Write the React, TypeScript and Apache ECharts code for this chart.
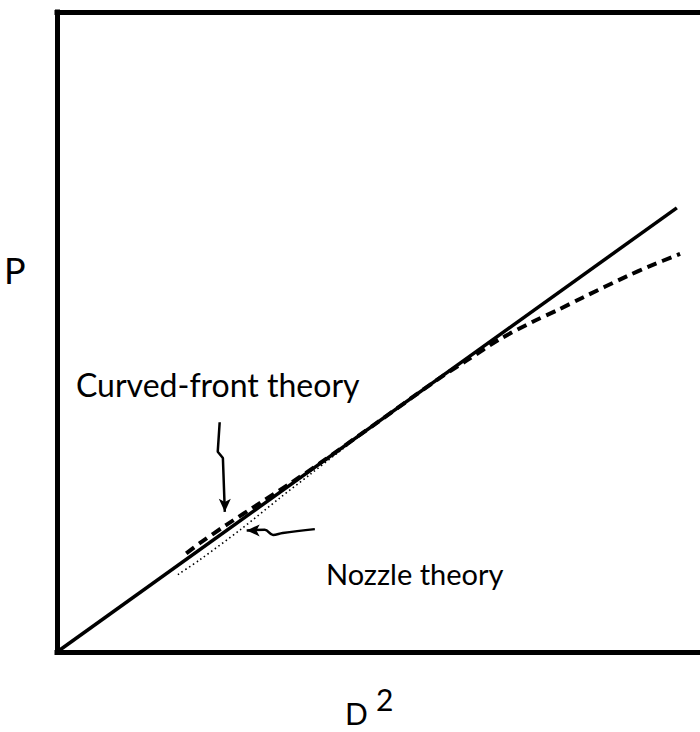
import React, { useEffect, useRef } from "react";
import * as echarts from "echarts";

// P versus D^2: linear reference line, curved-front theory (dashed), nozzle theory (dotted)
const solidLine: number[][] = [
  [0, 0],
  [96.4, 69.4],
];

const curvedFront: number[][] = [
  [20.1, 15.4],
  [22.2, 17.0],
  [26.4, 19.9],
  [31.6, 23.3],
  [36.2, 26.3],
  [40.9, 29.5],
  [50.0, 36.0],
  [59.5, 42.8],
  [63.8, 45.6],
  [68.9, 48.9],
  [74.0, 51.6],
  [77.8, 53.4],
  [81.8, 55.4],
  [88.6, 58.7],
  [92.2, 60.3],
  [96.9, 62.2],
];

const nozzle: number[][] = [
  [18.8, 12.1],
  [22.2, 14.4],
  [28.5, 19.1],
  [34.7, 24.1],
  [39.3, 27.7],
  [44.0, 31.4],
  [50.0, 36.0],
];

// hand-drawn pointer lines for the two labels
const curvedArrow: number[][] = [
  [25.3, 35.9],
  [25.0, 31.3],
  [25.8, 30.3],
  [26.1, 21.9],
];

const nozzleArrow: number[][] = [
  [40.1, 19.2],
  [35.1, 18.6],
  [33.6, 18.3],
  [32.3, 19.1],
  [29.5, 19.0],
];

const FONT = "Lato, 'DejaVu Sans', sans-serif";

function withArrowHead(points: number[][], rotate: number) {
  return points.map((p, i) =>
    i === points.length - 1
      ? { value: p, symbol: "arrow", symbolSize: [9, 13], symbolRotate: rotate }
      : { value: p, symbol: "none" }
  );
}

export default function App() {
  const ref = useRef<HTMLDivElement>(null);

  useEffect(() => {
    if (!ref.current) return;
    const chart = echarts.init(ref.current, null, { renderer: "svg" });
    const axisLine = {
      show: true,
      lineStyle: { color: "#000", width: 5, cap: "square" },
    };
    chart.setOption({
      animation: false,
      backgroundColor: "#fff",
      grid: { left: 57, right: 0, top: 12, bottom: 80 },
      xAxis: [
        {
          type: "value",
          min: 0,
          max: 100,
          position: "bottom",
          axisLine,
          axisTick: { show: false },
          axisLabel: { show: false },
          splitLine: { show: false },
        },
        {
          type: "value",
          min: 0,
          max: 100,
          position: "top",
          axisLine,
          axisTick: { show: false },
          axisLabel: { show: false },
          splitLine: { show: false },
        },
      ],
      yAxis: {
        type: "value",
        min: 0,
        max: 100,
        axisLine,
        axisTick: { show: false },
        axisLabel: { show: false },
        splitLine: { show: false },
      },
      series: [
        {
          type: "line",
          data: solidLine,
          symbol: "none",
          lineStyle: { color: "#000", width: 3.5 },
        },
        {
          type: "line",
          data: curvedFront,
          symbol: "none",
          smooth: 0.3,
          lineStyle: { color: "#000", width: 4, type: [10, 6] },
        },
        {
          type: "line",
          data: nozzle,
          symbol: "none",
          smooth: 0.3,
          lineStyle: { color: "#000", width: 1.6, type: [1.5, 3] },
        },
        {
          type: "line",
          data: withArrowHead(curvedArrow, 180),
          itemStyle: { color: "#000" },
          lineStyle: { color: "#000", width: 2.5 },
        },
        {
          type: "line",
          data: withArrowHead(nozzleArrow, 90),
          smooth: 0.4,
          itemStyle: { color: "#000" },
          lineStyle: { color: "#000", width: 2.5 },
        },
      ],
      graphic: [
        {
          type: "text",
          left: 76,
          top: 368,
          style: { text: "Curved-front theory", font: `32px ${FONT}`, fill: "#000" },
        },
        {
          type: "text",
          left: 326,
          top: 559,
          style: { text: "Nozzle theory", font: `29px ${FONT}`, fill: "#000" },
        },
        {
          type: "text",
          left: 4,
          top: 252,
          style: { text: "P", font: `36px ${FONT}`, fill: "#000" },
        },
        {
          type: "text",
          left: 345,
          top: 698,
          style: { text: "D", font: `30px ${FONT}`, fill: "#000" },
        },
        {
          type: "text",
          left: 376,
          top: 684,
          style: { text: "2", font: `30px ${FONT}`, fill: "#000" },
        },
      ],
    });
    return () => chart.dispose();
  }, []);

  return (
    <div
      ref={ref}
      style={{ position: "absolute", left: 0, top: 0, width: 700, height: 732 }}
    />
  );
}
